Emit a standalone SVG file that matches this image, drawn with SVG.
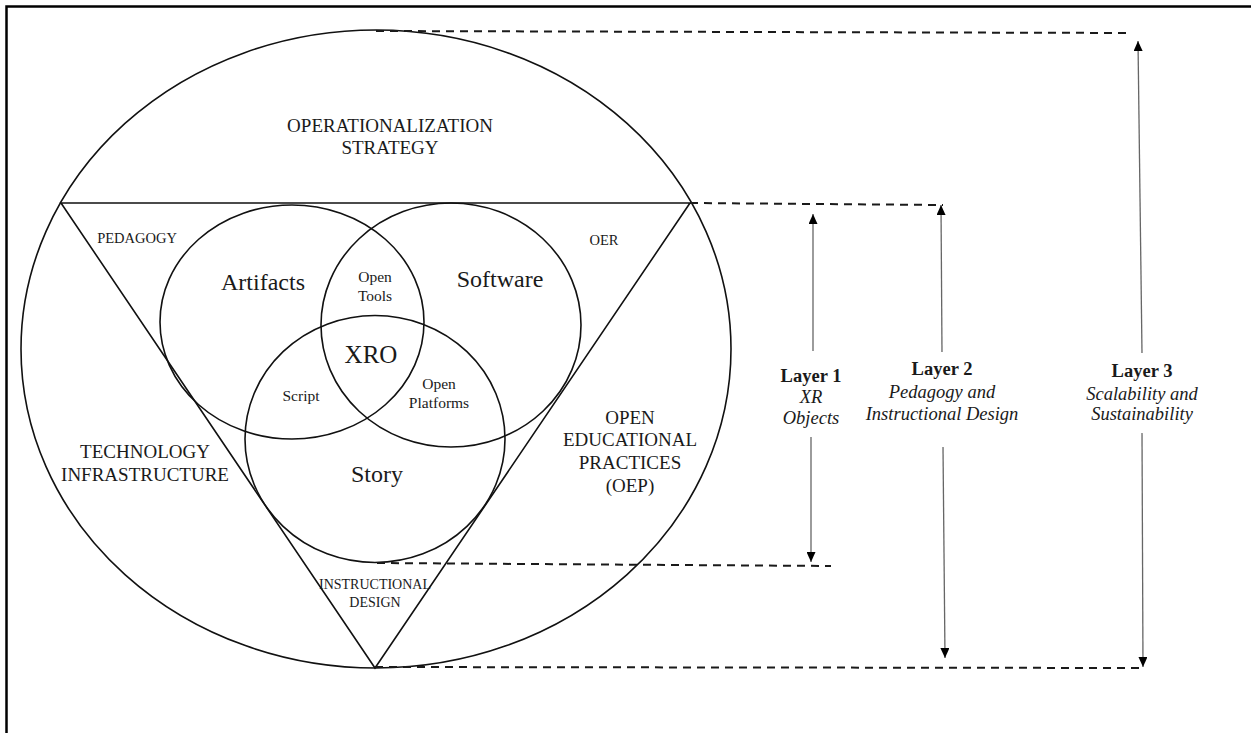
<svg xmlns="http://www.w3.org/2000/svg" width="1251" height="733" viewBox="0 0 1251 733">
<style>
.ln{fill:none;stroke:#111;stroke-width:1.6}
.dash{fill:none;stroke:#1a1a1a;stroke-width:2;stroke-dasharray:8 6}
.arr{fill:none;stroke:#666;stroke-width:1.3}
.t{font-family:"Liberation Serif","Times New Roman",serif;fill:#1a1a1a;text-anchor:middle}
.cap19{font-size:19px}
.cap14{font-size:14.5px}
.big{font-size:24px}
.sm{font-size:15.5px}
.lb{font-size:18.5px;font-weight:bold}
.li{font-size:18.5px;font-style:italic}
</style>
<defs>
<marker id="ah" markerUnits="userSpaceOnUse" markerWidth="11" markerHeight="9" refX="10" refY="4.5" orient="auto">
<path d="M0,0 L10,4.5 L0,9 z" fill="#000"/>
</marker>
</defs>
<rect width="1251" height="733" fill="#fff"/>
<g id="frame"><rect x="6.5" y="6.5" width="1270" height="760" fill="none" stroke="#000" stroke-width="2.5"/></g>

<g id="outer-ellipse"><ellipse class="ln" cx="376" cy="349" rx="355" ry="319"/></g>
<g id="triangle"><polygon class="ln" points="61,203 690,203 375,668"/></g>
<g id="artifacts"><ellipse class="ln" cx="292" cy="322" rx="132" ry="117"/>
<text class="t big" x="263" y="290">Artifacts</text></g>
<g id="software"><ellipse class="ln" cx="451" cy="325" rx="130" ry="122"/>
<text class="t big" x="500" y="287">Software</text></g>
<g id="story"><ellipse class="ln" cx="375" cy="439" rx="130" ry="123.5"/>
<text class="t big" x="377" y="482">Story</text></g>

<g id="operationalization"><text class="t cap19" x="390" y="132">OPERATIONALIZATION</text><text class="t cap19" x="390" y="154">STRATEGY</text></g>
<g id="pedagogy"><text class="t cap14" x="137" y="243">PEDAGOGY</text></g>
<g id="oer"><text class="t cap14" x="604" y="245">OER</text></g>
<g id="open-tools"><text class="t sm" x="375" y="282">Open</text><text class="t sm" x="375" y="301">Tools</text></g>
<g id="xro"><text class="t" style="font-size:25px" x="371" y="363">XRO</text></g>
<g id="script"><text class="t sm" x="301" y="401">Script</text></g>
<g id="open-platforms"><text class="t sm" x="439" y="389">Open</text><text class="t sm" x="439" y="408">Platforms</text></g>
<g id="technology"><text class="t cap19" x="145" y="458">TECHNOLOGY</text><text class="t cap19" x="145" y="481">INFRASTRUCTURE</text></g>
<g id="oep"><text class="t cap19" x="630" y="424">OPEN</text><text class="t cap19" x="630" y="446">EDUCATIONAL</text><text class="t cap19" x="630" y="469">PRACTICES</text><text class="t cap19" x="630" y="492">(OEP)</text></g>
<g id="instructional"><text class="t" style="font-size:14px" x="375" y="589">INSTRUCTIONAL</text><text class="t" style="font-size:14px" x="375" y="607">DESIGN</text></g>

<g id="layer1"><text class="t lb" x="811" y="382">Layer 1</text><text class="t li" x="811" y="403">XR</text><text class="t li" x="811" y="424">Objects</text></g>
<g id="layer2"><text class="t lb" x="942" y="375">Layer 2</text><text class="t li" x="942" y="398">Pedagogy and</text><text class="t li" x="942" y="420">Instructional Design</text></g>
<g id="layer3"><text class="t lb" x="1142" y="377">Layer 3</text><text class="t li" x="1142" y="400">Scalability and</text><text class="t li" x="1142" y="420">Sustainability</text></g>

<g id="connectors">
<line class="dash" x1="376" y1="31" x2="1132" y2="33"/>
<line class="dash" x1="690" y1="203" x2="943" y2="205"/>
<line class="dash" x1="377" y1="563" x2="831" y2="566"/>
<line class="dash" x1="375" y1="667" x2="1142" y2="668"/>
<line class="arr" x1="813" y1="351" x2="813" y2="214" marker-end="url(#ah)"/>
<line class="arr" x1="811" y1="437" x2="811" y2="562" marker-end="url(#ah)"/>
<line class="arr" x1="942" y1="352" x2="941" y2="205" marker-end="url(#ah)"/>
<line class="arr" x1="943" y1="447" x2="945" y2="658" marker-end="url(#ah)"/>
<line class="arr" x1="1142" y1="353" x2="1138" y2="41" marker-end="url(#ah)"/>
<line class="arr" x1="1142" y1="433" x2="1143" y2="667" marker-end="url(#ah)"/>
</g>
</svg>
